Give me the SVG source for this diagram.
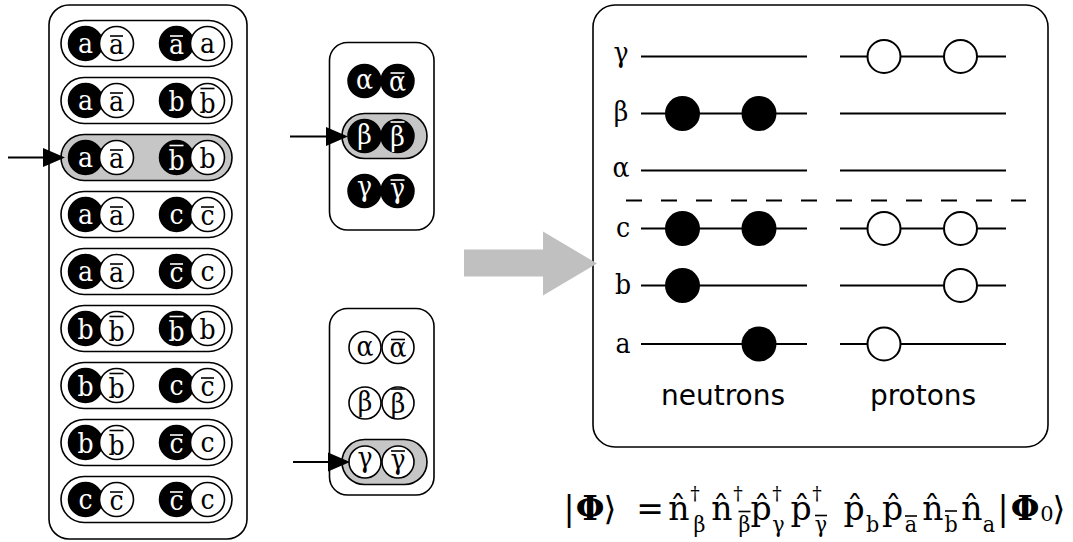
<svg xmlns="http://www.w3.org/2000/svg" width="1073" height="542" viewBox="0 0 1073 542">
<style>
.box{fill:#fff;stroke:#000;stroke-width:1.6}
.pill{fill:#fff;stroke:#000;stroke-width:1.6}
.pill.sel{fill:#c6c6c6}
.bk{fill:#000;stroke:#000;stroke-width:1.5}
.wh{fill:#fff;stroke:#000;stroke-width:1.6}
.lt{font-family:"DejaVu Serif Condensed","DejaVu Serif",serif;font-stretch:condensed;font-size:28px;text-anchor:middle}
.w{fill:#fff}
.k{fill:#000}
.barw{stroke:#fff;stroke-width:1.6}
.bark{stroke:#000;stroke-width:1.6}
.lvl{stroke:#000;stroke-width:2;fill:none}
.nu{fill:#000}
.pr{fill:#fff;stroke:#000;stroke-width:2}
.lab{font-family:"DejaVu Serif Condensed","DejaVu Serif",serif;font-stretch:condensed;font-size:28px;text-anchor:middle}
.sans{font-family:"DejaVu Sans",sans-serif;font-size:28px;text-anchor:middle}
.fm{font-family:"DejaVu Serif","DejaVu Sans",serif;font-size:33px;text-anchor:middle}
.fb{font-family:"DejaVu Serif",serif;font-size:33px;font-weight:bold;text-anchor:middle}
.sub{font-family:"DejaVu Serif Condensed","DejaVu Serif",serif;font-stretch:condensed;font-size:23px;text-anchor:middle}
.dag{font-family:"DejaVu Serif",serif;font-size:19px;text-anchor:middle}
.zero{font-family:"DejaVu Serif",serif;font-size:21px;text-anchor:middle}
.arr{stroke:#000;stroke-width:2;fill:none}
</style>
<defs>
<marker id="ah" markerUnits="userSpaceOnUse" markerWidth="22" markerHeight="20" refX="7" refY="10" orient="auto">
<path d="M0,0.5 L22,10 L0,19.5 z" fill="#000"/>
</marker>
</defs>

<g id="config-box">
<rect class="box" x="49" y="5" width="198" height="534" rx="20"/>
</g>

<g id="row1">
<rect class="pill" x="61" y="20.5" width="171" height="46" rx="23"/>
<circle class="bk" cx="85.5" cy="43.5" r="17"/><circle class="wh" cx="116.5" cy="43.5" r="17"/>
<circle class="bk" cx="176.5" cy="43.5" r="17"/><circle class="wh" cx="207.5" cy="43.5" r="17"/>
<text class="lt w" x="85.5" y="52.5">a</text>
<text class="lt k" x="116.5" y="54">a</text><line class="bark" x1="110" x2="123" y1="36" y2="36"/>
<text class="lt w" x="176.5" y="54">a</text><line class="barw" x1="170" x2="183" y1="36" y2="36"/>
<text class="lt k" x="207.5" y="52.5">a</text>
</g>

<g id="row2">
<rect class="pill" x="61" y="77.5" width="171" height="46" rx="23"/>
<circle class="bk" cx="85.5" cy="100.5" r="17"/><circle class="wh" cx="116.5" cy="100.5" r="17"/>
<circle class="bk" cx="176.5" cy="100.5" r="17"/><circle class="wh" cx="207.5" cy="100.5" r="17"/>
<text class="lt w" x="85.5" y="109.5">a</text>
<text class="lt k" x="116.5" y="111">a</text><line class="bark" x1="110" x2="123" y1="93" y2="93"/>
<text class="lt w" x="176.5" y="110.5">b</text>
<text class="lt k" x="207.5" y="112.5">b</text><line class="bark" x1="200.5" x2="214.5" y1="88.5" y2="88.5"/>
</g>

<g id="row3">
<rect class="pill sel" x="61" y="134.5" width="171" height="46" rx="23"/>
<circle class="bk" cx="85.5" cy="157.5" r="17"/><circle class="wh" cx="116.5" cy="157.5" r="17"/>
<circle class="bk" cx="176.5" cy="157.5" r="17"/><circle class="wh" cx="207.5" cy="157.5" r="17"/>
<text class="lt w" x="85.5" y="166.5">a</text>
<text class="lt k" x="116.5" y="168">a</text><line class="bark" x1="110" x2="123" y1="150" y2="150"/>
<text class="lt w" x="176.5" y="169.5">b</text><line class="barw" x1="169.5" x2="183.5" y1="145.5" y2="145.5"/>
<text class="lt k" x="207.5" y="167.5">b</text>
</g>

<g id="row4">
<rect class="pill" x="61" y="191.5" width="171" height="46" rx="23"/>
<circle class="bk" cx="85.5" cy="214.5" r="17"/><circle class="wh" cx="116.5" cy="214.5" r="17"/>
<circle class="bk" cx="176.5" cy="214.5" r="17"/><circle class="wh" cx="207.5" cy="214.5" r="17"/>
<text class="lt w" x="85.5" y="223.5">a</text>
<text class="lt k" x="116.5" y="225">a</text><line class="bark" x1="110" x2="123" y1="207" y2="207"/>
<text class="lt w" x="176.5" y="223.5">c</text>
<text class="lt k" x="207.5" y="225">c</text><line class="bark" x1="201" x2="214" y1="207" y2="207"/>
</g>

<g id="row5">
<rect class="pill" x="61" y="248.5" width="171" height="46" rx="23"/>
<circle class="bk" cx="85.5" cy="271.5" r="17"/><circle class="wh" cx="116.5" cy="271.5" r="17"/>
<circle class="bk" cx="176.5" cy="271.5" r="17"/><circle class="wh" cx="207.5" cy="271.5" r="17"/>
<text class="lt w" x="85.5" y="280.5">a</text>
<text class="lt k" x="116.5" y="282">a</text><line class="bark" x1="110" x2="123" y1="264" y2="264"/>
<text class="lt w" x="176.5" y="282">c</text><line class="barw" x1="170" x2="183" y1="264" y2="264"/>
<text class="lt k" x="207.5" y="280.5">c</text>
</g>

<g id="row6">
<rect class="pill" x="61" y="305.5" width="171" height="46" rx="23"/>
<circle class="bk" cx="85.5" cy="328.5" r="17"/><circle class="wh" cx="116.5" cy="328.5" r="17"/>
<circle class="bk" cx="176.5" cy="328.5" r="17"/><circle class="wh" cx="207.5" cy="328.5" r="17"/>
<text class="lt w" x="85.5" y="338.5">b</text>
<text class="lt k" x="116.5" y="340.5">b</text><line class="bark" x1="109.5" x2="123.5" y1="316.5" y2="316.5"/>
<text class="lt w" x="176.5" y="340.5">b</text><line class="barw" x1="169.5" x2="183.5" y1="316.5" y2="316.5"/>
<text class="lt k" x="207.5" y="338.5">b</text>
</g>

<g id="row7">
<rect class="pill" x="61" y="362.5" width="171" height="46" rx="23"/>
<circle class="bk" cx="85.5" cy="385.5" r="17"/><circle class="wh" cx="116.5" cy="385.5" r="17"/>
<circle class="bk" cx="176.5" cy="385.5" r="17"/><circle class="wh" cx="207.5" cy="385.5" r="17"/>
<text class="lt w" x="85.5" y="395.5">b</text>
<text class="lt k" x="116.5" y="397.5">b</text><line class="bark" x1="109.5" x2="123.5" y1="373.5" y2="373.5"/>
<text class="lt w" x="176.5" y="394.5">c</text>
<text class="lt k" x="207.5" y="396">c</text><line class="bark" x1="201" x2="214" y1="378" y2="378"/>
</g>

<g id="row8">
<rect class="pill" x="61" y="419.5" width="171" height="46" rx="23"/>
<circle class="bk" cx="85.5" cy="442.5" r="17"/><circle class="wh" cx="116.5" cy="442.5" r="17"/>
<circle class="bk" cx="176.5" cy="442.5" r="17"/><circle class="wh" cx="207.5" cy="442.5" r="17"/>
<text class="lt w" x="85.5" y="452.5">b</text>
<text class="lt k" x="116.5" y="454.5">b</text><line class="bark" x1="109.5" x2="123.5" y1="430.5" y2="430.5"/>
<text class="lt w" x="176.5" y="453">c</text><line class="barw" x1="170" x2="183" y1="435" y2="435"/>
<text class="lt k" x="207.5" y="451.5">c</text>
</g>

<g id="row9">
<rect class="pill" x="61" y="476.5" width="171" height="46" rx="23"/>
<circle class="bk" cx="85.5" cy="499.5" r="17"/><circle class="wh" cx="116.5" cy="499.5" r="17"/>
<circle class="bk" cx="176.5" cy="499.5" r="17"/><circle class="wh" cx="207.5" cy="499.5" r="17"/>
<text class="lt w" x="85.5" y="508.5">c</text>
<text class="lt k" x="116.5" y="510">c</text><line class="bark" x1="110" x2="123" y1="492" y2="492"/>
<text class="lt w" x="176.5" y="510">c</text><line class="barw" x1="170" x2="183" y1="492" y2="492"/>
<text class="lt k" x="207.5" y="508.5">c</text>
</g>

<g id="neutron-box">
<rect class="box" x="329.5" y="42.5" width="104.5" height="187.5" rx="18"/>
<circle class="bk" cx="364.5" cy="81" r="16.5"/><circle class="bk" cx="397.5" cy="81" r="16.5"/>
<text class="lt w" x="364.5" y="89">α</text>
<text class="lt w" x="397.5" y="90.5">α</text><line class="barw" x1="390.5" x2="404.5" y1="73" y2="73"/>
<rect class="pill sel" x="342" y="113.5" width="85" height="45" rx="22.5"/>
<circle class="bk" cx="364.5" cy="136" r="16.5"/><circle class="bk" cx="397.5" cy="136" r="16.5"/>
<text class="lt w" x="364.5" y="144">β</text>
<text class="lt w" x="397.5" y="145.5">β</text><line class="barw" x1="390.5" x2="404.5" y1="122" y2="122"/>
<circle class="bk" cx="364.5" cy="191" r="16.5"/><circle class="bk" cx="397.5" cy="191" r="16.5"/>
<text class="lt w" x="364.5" y="196">γ</text>
<text class="lt w" x="397.5" y="197.5">γ</text><line class="barw" x1="390.5" x2="404.5" y1="180" y2="180"/>
</g>

<g id="proton-box">
<rect class="box" x="329.5" y="308.5" width="104.5" height="186.5" rx="18"/>
<circle class="wh" cx="365" cy="347.5" r="16"/><circle class="wh" cx="398" cy="347.5" r="16"/>
<text class="lt k" x="365" y="355.5">α</text>
<text class="lt k" x="398" y="357">α</text><line class="bark" x1="391" x2="405" y1="339.5" y2="339.5"/>
<circle class="wh" cx="365" cy="403" r="16"/><circle class="wh" cx="398" cy="403" r="16"/>
<text class="lt k" x="365" y="411">β</text>
<text class="lt k" x="398" y="412.5">β</text><line class="bark" x1="391" x2="405" y1="389" y2="389"/>
<rect class="pill sel" x="342" y="439.5" width="85" height="45" rx="22.5"/>
<circle class="wh" cx="365" cy="462" r="16"/><circle class="wh" cx="398" cy="462" r="16"/>
<text class="lt k" x="365" y="467">γ</text>
<text class="lt k" x="398" y="468.5">γ</text><line class="bark" x1="391" x2="405" y1="451" y2="451"/>
</g>

<g id="level-box">
<rect class="box" x="593" y="5" width="455" height="442" rx="22"/>
<g class="lvl">
<line x1="641" x2="807" y1="56.5" y2="56.5"/><line x1="840" x2="1006" y1="56.5" y2="56.5"/>
<line x1="641" x2="807" y1="113.5" y2="113.5"/><line x1="840" x2="1006" y1="113.5" y2="113.5"/>
<line x1="641" x2="807" y1="170.5" y2="170.5"/><line x1="840" x2="1006" y1="170.5" y2="170.5"/>
<line x1="641" x2="807" y1="228.5" y2="228.5"/><line x1="840" x2="1006" y1="228.5" y2="228.5"/>
<line x1="641" x2="807" y1="285.5" y2="285.5"/><line x1="840" x2="1006" y1="285.5" y2="285.5"/>
<line x1="641" x2="807" y1="344" y2="344"/><line x1="840" x2="1006" y1="344" y2="344"/>
</g>
<line x1="626" x2="1026" y1="200.5" y2="200.5" stroke="#000" stroke-width="2" stroke-dasharray="16 19"/>
<text class="lab" x="621" y="62">γ</text>
<text class="lab" x="621" y="121">β</text>
<text class="lab" x="621" y="177">α</text>
<text class="lab" x="623" y="236.5">c</text>
<text class="lab" x="623" y="294">b</text>
<text class="lab" x="623" y="352.5">a</text>
<circle class="pr" cx="884" cy="56.5" r="16.5"/><circle class="pr" cx="960.5" cy="56.5" r="16.5"/>
<circle class="nu" cx="682.5" cy="113.5" r="17.5"/><circle class="nu" cx="759" cy="113.5" r="17.5"/>
<circle class="nu" cx="682.5" cy="228.5" r="17.5"/><circle class="nu" cx="759" cy="228.5" r="17.5"/>
<circle class="pr" cx="884" cy="228.5" r="16.5"/><circle class="pr" cx="960.5" cy="228.5" r="16.5"/>
<circle class="nu" cx="682.5" cy="285.5" r="17.5"/>
<circle class="pr" cx="960.5" cy="285.5" r="16.5"/>
<circle class="nu" cx="759" cy="344" r="17.5"/>
<circle class="pr" cx="884" cy="344" r="16.5"/>
<text class="sans" x="723" y="405">neutrons</text>
<text class="sans" x="923" y="405">protons</text>
</g>

<g id="formula">
<text class="fm" x="569" y="520">|</text>
<text class="fb" x="590" y="520">Φ</text>
<text class="fm" x="610" y="520">⟩</text>
<text class="fm" x="650" y="520">=</text>
<text class="fm" x="679" y="520">n̂</text>
<text class="dag" x="695" y="500">†</text><text class="sub" x="699.5" y="532">β</text>
<text class="fm" x="722" y="520">n̂</text>
<text class="dag" x="738" y="500">†</text><text class="sub" x="744.5" y="532">β</text><line class="bark" x1="738.5" x2="750.5" y1="511.5" y2="511.5"/>
<text class="fm" x="761" y="520">p̂</text>
<text class="dag" x="777" y="500">†</text><text class="sub" x="778.5" y="532">γ</text>
<text class="fm" x="801" y="520">p̂</text>
<text class="dag" x="817" y="500">†</text><text class="sub" x="821" y="532">γ</text><line class="bark" x1="815" x2="827" y1="515.5" y2="515.5"/>
<text class="fm" x="854" y="520">p̂</text>
<text class="sub" x="872.5" y="532">b</text>
<text class="fm" x="892.5" y="520">p̂</text>
<text class="sub" x="911" y="532">a</text><line class="bark" x1="905" x2="917" y1="516" y2="516"/>
<text class="fm" x="933" y="520">n̂</text>
<text class="sub" x="951" y="532">b</text><line class="bark" x1="945" x2="957" y1="511" y2="511"/>
<text class="fm" x="972" y="520">n̂</text>
<text class="sub" x="989" y="532">a</text>
<text class="fm" x="1003" y="520">|</text>
<text class="fb" x="1025" y="520">Φ</text>
<text class="zero" x="1047" y="521">0</text>
<text class="fm" x="1059" y="520">⟩</text>
</g>

<g id="connectors">
<line class="arr" x1="8" y1="157.5" x2="50" y2="157.5" marker-end="url(#ah)"/>
<line class="arr" x1="290" y1="136.5" x2="333" y2="136.5" marker-end="url(#ah)"/>
<line class="arr" x1="293" y1="462" x2="335" y2="462" marker-end="url(#ah)"/>
<polygon points="464,249.5 543,249.5 543,231.5 597,263.5 543,295.5 543,276.5 464,276.5" fill="#c0c0c0"/>
</g>
</svg>
